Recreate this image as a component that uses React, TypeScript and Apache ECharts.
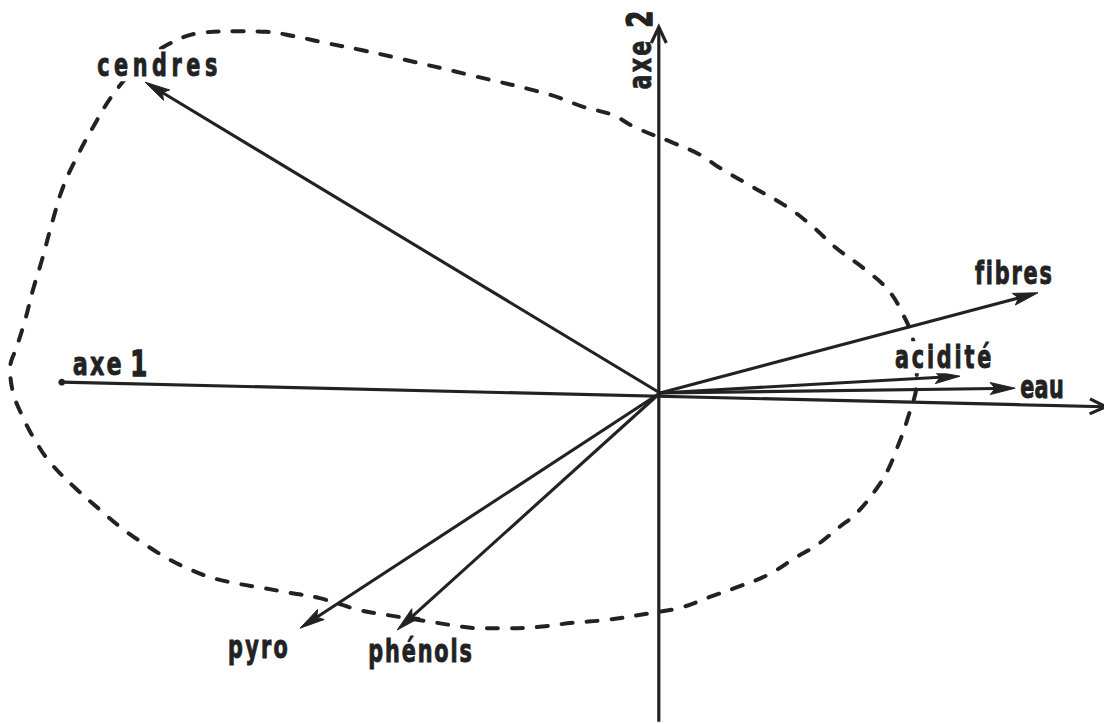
import React, { useEffect, useRef } from "react";
import * as echarts from "echarts";

// ---- data (loadings on the two principal axes) ----
const variableNames = ["cendres", "fibres", "acidité", "eau", "pyro", "phénols"];
const axe1Values = [-0.858, 0.63, 0.5, 0.592, -0.6, -0.438];
const axe2Values = [0.518, 0.167, 0.028, 0.008, -0.392, -0.395];

const axisNames = ["axe", "axe"];
const axisNumbers = ["1", "2"];
const axisStartX = [-0.997, -0.002];
const axisStartY = [0.018, -0.548];
const axisEndX = [0.743, -0.002];
const axisEndY = [-0.023, 0.61];

// dashed contour enclosing the observations
const contourX = [
  -0.867, -0.812, -0.767, -0.705, -0.655, -0.612, -0.555, -0.5, -0.445, -0.317,
  -0.183, -0.128, -0.078, -0.042, 0.022, 0.067, 0.1, 0.155, 0.212, 0.255,
  0.292, 0.343, 0.38, 0.403, 0.422, 0.428, 0.412, 0.395, 0.38, 0.362,
  0.328, 0.297, 0.262, 0.225, 0.18, 0.125, 0.083, 0.037, -0.017, -0.087,
  -0.145, -0.205, -0.255, -0.303, -0.34, -0.372, -0.455, -0.5, -0.567, -0.617,
  -0.662, -0.708, -0.75, -0.788, -0.822, -0.862, -0.9, -0.933, -0.975, -1.017,
  -1.045, -1.062, -1.078, -1.083, -1.072, -1.058, -1.045, -1.03, -1.012, -0.995,
  -0.972, -0.945, -0.912, -0.867,
];
const contourY = [
  0.552, 0.585, 0.6, 0.603, 0.602, 0.595, 0.583, 0.572, 0.56, 0.53,
  0.497, 0.477, 0.463, 0.443, 0.417, 0.397, 0.375, 0.343, 0.31, 0.277,
  0.243, 0.205, 0.172, 0.135, 0.088, 0.022, -0.045, -0.092, -0.128, -0.158,
  -0.2, -0.225, -0.253, -0.275, -0.303, -0.325, -0.34, -0.357, -0.367, -0.378,
  -0.383, -0.39, -0.392, -0.392, -0.388, -0.383, -0.37, -0.362, -0.342, -0.333,
  -0.325, -0.317, -0.307, -0.292, -0.275, -0.25, -0.223, -0.195, -0.158, -0.115,
  -0.073, -0.04, 0, 0.042, 0.077, 0.122, 0.172, 0.222, 0.288, 0.343,
  0.393, 0.443, 0.497, 0.552,
];

// ---- styles ----
const INK = "#222222";
const FONT = '"DejaVu Sans", "Liberation Sans", sans-serif';
const LABEL_SIZE = 32;
const TEXT_SCALE = 0.65;
const AXIS_TEXT_SCALE = 0.7;
const HEAD_LEN = 25;
const HEAD_W = 6;
// label placement relative to the arrow tip (pixels) and tracking (local units)
const labelOffsets: Record<string, [number, number]> = {
  cendres: [-48, -17],
  fibres: [-63, -20],
  "acidité": [-65, -19],
  eau: [5, -1],
  pyro: [-72, 19],
  "phénols": [-29, 21],
};
const labelTracking: Record<string, number> = {
  cendres: 7,
  fibres: 2.8,
  "acidité": 4.3,
  eau: 0.5,
  pyro: 3.5,
  "phénols": 2.9,
  axe: 3,
};

export default function App() {
  const ref = useRef<HTMLDivElement>(null);
  useEffect(() => {
    if (!ref.current) return;
    const chart = echarts.init(ref.current, null, { renderer: "svg" });

    const vectorData = variableNames.map((n, i) => [axe1Values[i], axe2Values[i]]);
    const axisData = axisNames.map((n, i) => [axisStartX[i], axisStartY[i], axisEndX[i], axisEndY[i]]);
    const contourData = contourX.map((x, i) => [x, contourY[i]]);

    const rich = {
      a: { fontSize: LABEL_SIZE, fontFamily: FONT, fontWeight: "bold", fill: INK, stroke: INK, lineWidth: 0.8 },
      b: {
        fontSize: LABEL_SIZE + 3,
        fontFamily: FONT,
        fontWeight: "bold",
        fill: INK,
        stroke: INK,
        lineWidth: 1.4,
        padding: [0, 0, 0, 7],
      },
    };

    chart.setOption({
      animation: false,
      backgroundColor: "#ffffff",
      grid: { left: 0, right: 0, top: 0, bottom: 0, containLabel: false },
      xAxis: { type: "value", min: -1.1, max: 0.74, show: false },
      yAxis: { type: "value", min: -0.5517, max: 0.655, show: false },
      series: [
        {
          type: "line",
          data: contourData,
          showSymbol: false,
          symbol: "none",
          smooth: 0.4,
          silent: true,
          z: 1,
          lineStyle: { color: INK, width: 4, type: [11, 14], cap: "round" },
        },
        {
          type: "custom",
          data: axisData,
          silent: true,
          clip: false,
          z: 2,
          encode: { x: [0, 2], y: [1, 3] },
          renderItem: (params: any, api: any) => {
            const i = params.dataIndex;
            const s = api.coord([api.value(0), api.value(1)]);
            const e = api.coord([api.value(2), api.value(3)]);
            const dx = e[0] - s[0];
            const dy = e[1] - s[1];
            const len = Math.hypot(dx, dy);
            const ux = dx / len;
            const uy = dy / len;
            const nx = -uy;
            const ny = ux;
            const al = 16;
            const aw = 7.5;
            const children: any[] = [
              { type: "line", shape: { x1: s[0], y1: s[1], x2: e[0], y2: e[1] }, style: { stroke: INK, lineWidth: 3.2 } },
              {
                type: "polyline",
                shape: {
                  points: [
                    [e[0] - ux * al + nx * aw, e[1] - uy * al + ny * aw],
                    [e[0], e[1]],
                    [e[0] - ux * al - nx * aw, e[1] - uy * al - ny * aw],
                  ],
                },
                style: { stroke: INK, lineWidth: 3.2, fill: "none", lineJoin: "miter" },
              },
            ];
            const label = "{a|" + axisNames[i] + " }{b|" + axisNumbers[i] + "}";
            if (i === 0) {
              children.push({ type: "circle", shape: { cx: s[0], cy: s[1], r: 3.4 }, style: { fill: INK } });
              children.push({
                type: "text",
                x: s[0] + 11,
                y: s[1] - 18,
                scaleX: AXIS_TEXT_SCALE,
                style: { text: label, rich, fill: INK, align: "left", verticalAlign: "middle" },
              });
            } else {
              children.push({
                type: "text",
                x: e[0] - 19,
                y: e[1] + 21,
                rotation: Math.PI / 2,
                scaleX: AXIS_TEXT_SCALE,
                style: { text: label, rich, fill: INK, align: "center", verticalAlign: "middle" },
              });
            }
            return { type: "group", children };
          },
        },
        {
          type: "custom",
          data: vectorData,
          silent: true,
          clip: false,
          z: 3,
          encode: { x: 0, y: 1 },
          renderItem: (params: any, api: any) => {
            const i = params.dataIndex;
            const name = variableNames[i];
            const o = api.coord([0, 0]);
            const t = api.coord([api.value(0), api.value(1)]);
            const dx = t[0] - o[0];
            const dy = t[1] - o[1];
            const len = Math.hypot(dx, dy);
            const ux = dx / len;
            const uy = dy / len;
            const nx = -uy;
            const ny = ux;
            const bx = t[0] - ux * HEAD_LEN;
            const by = t[1] - uy * HEAD_LEN;
            const notchX = bx + ux * 5;
            const notchY = by + uy * 5;
            const off = labelOffsets[name] || [0, 0];
            return {
              type: "group",
              children: [
                {
                  type: "line",
                  shape: { x1: o[0], y1: o[1], x2: notchX, y2: notchY },
                  style: { stroke: INK, lineWidth: 3.1 },
                },
                {
                  type: "polygon",
                  shape: {
                    points: [
                      [t[0], t[1]],
                      [bx + nx * HEAD_W, by + ny * HEAD_W],
                      [notchX, notchY],
                      [bx - nx * HEAD_W, by - ny * HEAD_W],
                    ],
                  },
                  style: { fill: INK, stroke: INK, lineWidth: 1, lineJoin: "round" },
                },
                {
                  type: "text",
                  x: t[0] + off[0],
                  y: t[1] + off[1],
                  scaleX: TEXT_SCALE,
                  style: {
                    text: name,
                    fill: INK,
                    stroke: INK,
                    lineWidth: 1,
                    fontSize: LABEL_SIZE,
                    fontFamily: FONT,
                    fontWeight: "bold",
                    align: "left",
                    verticalAlign: "middle",
                    backgroundColor: "#ffffff",
                  },
                },
              ],
            };
          },
        },
      ],
    });

    // letter tracking of the hand-lettered labels
    ref.current.querySelectorAll("text").forEach((el) => {
      const key = (el.textContent || "").trim();
      if (labelTracking[key] != null) el.setAttribute("letter-spacing", String(labelTracking[key]));
    });

    return () => chart.dispose();
  }, []);
  return (
    <div
      ref={ref}
      style={{ position: "absolute", left: 0, top: 0, width: 1104, height: 724, background: "#fff" }}
    />
  );
}
